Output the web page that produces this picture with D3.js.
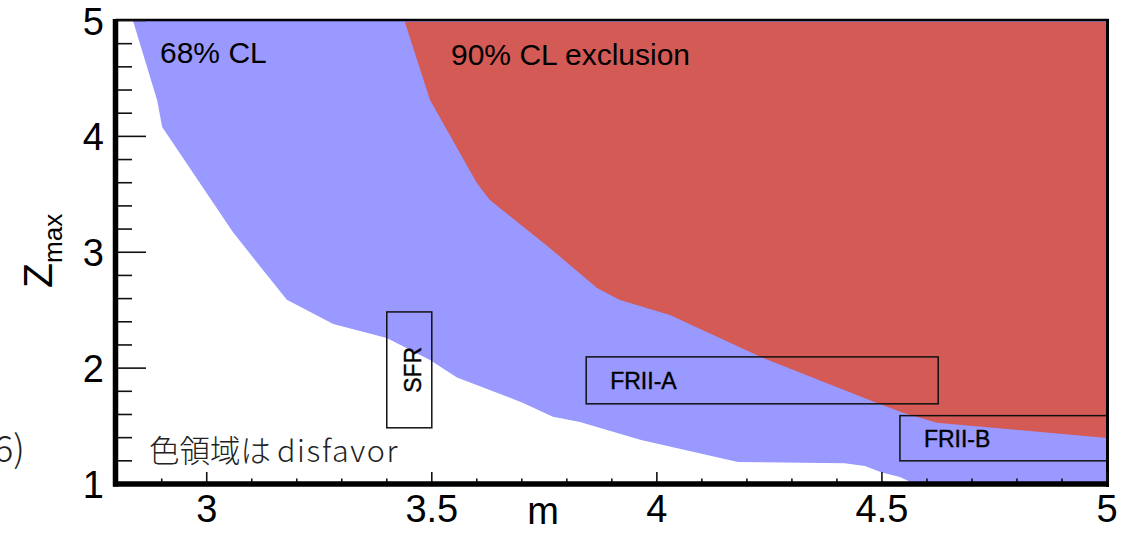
<!DOCTYPE html>
<html>
<head>
<meta charset="utf-8">
<script src="https://cdn.jsdelivr.net/npm/d3@7"></script>
<style>
  html, body { margin: 0; padding: 0; background: #ffffff; }
  svg { display: block; }
</style>
</head>
<body>
<svg id="chart" width="1127" height="534"></svg>
<script>
// Axis ranges
const mDomain = [2.8, 5];
const zDomain = [1, 5];

// Tick values and labels
const xTickValues = [3, 3.5, 4, 4.5, 5];
const xTickLabels = ["3", "3.5", "4", "4.5", "5"];
const yTickValues = [1, 2, 3, 4, 5];
const yTickLabels = ["1", "2", "3", "4", "5"];

// 68% CL region: lower/left boundary (m, Zmax)
const cl68M = [2.836, 2.890, 2.901, 3.058, 3.112, 3.178, 3.281, 3.400, 3.496, 3.556, 3.703, 3.769, 3.829, 3.965, 4.180, 4.417, 4.462, 4.500, 4.540, 4.573];
const cl68Z = [5.000, 4.310, 4.080, 3.175, 2.910, 2.590, 2.380, 2.260, 2.070, 1.920, 1.700, 1.580, 1.535, 1.380, 1.190, 1.180, 1.155, 1.100, 1.060, 1.000];

// 90% CL exclusion region: lower/left boundary (m, Zmax)
const cl90M = [3.440, 3.496, 3.600, 3.629, 3.762, 3.867, 3.918, 4.029, 4.236, 4.489, 4.547, 4.622, 5.000];
const cl90Z = [4.990, 4.314, 3.598, 3.451, 3.037, 2.692, 2.589, 2.459, 2.088, 1.700, 1.614, 1.528, 1.398];

// Source population boxes
const regionNames = ["SFR", "FRII-A", "FRII-B"];
const regionMMin = [3.40, 3.843, 4.54];
const regionMMax = [3.50, 4.625, 5.00];
const regionZMin = [1.485, 1.692, 1.20];
const regionZMax = [2.485, 2.097, 1.59];

// Text annotations
const cl68Label = "68% CL";
const cl90Label = "90% CL exclusion";
const noteLabel = "色領域は";
const noteLatin = "disfavor";
const sideLabel = "6)";

const svg = d3.select("#chart");

const x = d3.scaleLinear().domain(mDomain).range([116.7, 1107]);
const y = d3.scaleLinear().domain(zDomain).range([484, 20.5]);

svg.append("defs").append("clipPath").attr("id", "plotClip")
  .append("rect")
  .attr("x", x(mDomain[0])).attr("y", y(zDomain[1]))
  .attr("width", x(mDomain[1]) - x(mDomain[0]))
  .attr("height", y(zDomain[0]) - y(zDomain[1]));

const line = d3.line().x(d => x(d[0])).y(d => y(d[1]));

const plot = svg.append("g").attr("clip-path", "url(#plotClip)");

// 68% CL band (filled to the upper-right corner)
const poly68 = cl68M.map((m, i) => [m, cl68Z[i]]);
poly68.push([mDomain[1], zDomain[0]], [mDomain[1], zDomain[1]]);
plot.append("path")
  .attr("d", line(poly68) + "Z")
  .attr("fill", "#9999ff");

// 90% CL exclusion (drawn on top)
const poly90 = cl90M.map((m, i) => [m, cl90Z[i]]);
poly90.push([mDomain[1], 4.99]);
plot.append("path")
  .attr("d", line(poly90) + "Z")
  .attr("fill", "#d35a55");

// Source boxes
regionNames.forEach((name, i) => {
  svg.append("rect")
    .attr("x", x(regionMMin[i]))
    .attr("y", y(regionZMax[i]))
    .attr("width", x(regionMMax[i]) - x(regionMMin[i]))
    .attr("height", y(regionZMin[i]) - y(regionZMax[i]))
    .attr("fill", "none")
    .attr("stroke", "#111")
    .attr("stroke-width", 1.5);
});

const boxFont = "'Liberation Sans', Arial, Helvetica, sans-serif";
// SFR label, vertical
svg.append("text")
  .attr("transform", `translate(${(x(regionMMin[0]) + x(regionMMax[0])) / 2 + 12},${(y(regionZMin[0]) + y(regionZMax[0])) / 2}) rotate(-90)`)
  .attr("text-anchor", "middle")
  .attr("font-family", boxFont)
  .attr("font-size", 23)
  .attr("fill", "#000")
  .attr("stroke", "#000").attr("stroke-width", 0.4)
  .text(regionNames[0]);
// FRII-A / FRII-B labels
[1, 2].forEach(i => {
  svg.append("text")
    .attr("x", x(regionMMin[i]) + 24)
    .attr("y", (y(regionZMin[i]) + y(regionZMax[i])) / 2 + 9)
    .attr("font-family", boxFont)
    .attr("font-size", 23)
    .attr("fill", "#000")
    .attr("stroke", "#000").attr("stroke-width", 0.4)
    .text(regionNames[i]);
});

// Frame
const frame = svg.append("g").attr("stroke", "#000").attr("fill", "none");
frame.append("line").attr("x1", x(mDomain[0]) - 1).attr("x2", x(mDomain[1]) + 1.5)
  .attr("y1", y(zDomain[1]) - 0.5).attr("y2", y(zDomain[1]) - 0.5).attr("stroke-width", 2.5);
frame.append("line").attr("x1", x(mDomain[1]) + 0.5).attr("x2", x(mDomain[1]) + 0.5)
  .attr("y1", y(zDomain[1]) - 1.5).attr("y2", y(zDomain[0]) + 3).attr("stroke-width", 3);

// Y axis ticks (minor every 0.2, major every 1)
const yMinor = d3.range(10, 51, 2).map(v => v / 10);
svg.append("g").selectAll("line").data(yMinor).join("line")
  .attr("x1", 115.5)
  .attr("x2", d => Number.isInteger(d) ? 146 : 132)
  .attr("y1", d => y(d)).attr("y2", d => y(d))
  .attr("stroke", "#111").attr("stroke-width", 1.6);

// X axis ticks (minor every 0.1, major every 0.5)
const xMinor = d3.range(28, 51, 1).map(v => v / 10);
svg.append("g").selectAll("line").data(xMinor).join("line")
  .attr("x1", d => x(d)).attr("x2", d => x(d))
  .attr("y1", 484)
  .attr("y2", d => (Math.round(d * 10) % 5 === 0) ? 472 : 478.5)
  .attr("stroke", "#111").attr("stroke-width", 1.6);

// Thick axis lines
svg.append("line").attr("x1", 115.5).attr("x2", 115.5)
  .attr("y1", y(zDomain[1]) - 1.5).attr("y2", 486.5)
  .attr("stroke", "#000").attr("stroke-width", 5.5);
svg.append("line").attr("x1", 113).attr("x2", x(mDomain[1]) + 2)
  .attr("y1", 484).attr("y2", 484)
  .attr("stroke", "#000").attr("stroke-width", 5.5);

const axisFont = "'Liberation Sans', Arial, Helvetica, sans-serif";
// Y tick labels
svg.append("g").selectAll("text").data(yTickValues).join("text")
  .attr("x", 104)
  .attr("y", d => y(d) + 14)
  .attr("text-anchor", "end")
  .attr("font-family", axisFont)
  .attr("font-size", 38)
  .attr("fill", "#000")
  .text((d, i) => yTickLabels[i]);

// X tick labels
svg.append("g").selectAll("text").data(xTickValues).join("text")
  .attr("x", d => x(d))
  .attr("y", 522)
  .attr("text-anchor", "middle")
  .attr("font-family", axisFont)
  .attr("font-size", 38)
  .attr("fill", "#000")
  .text((d, i) => xTickLabels[i]);

// Axis titles
svg.append("text")
  .attr("x", 543).attr("y", 524)
  .attr("text-anchor", "middle")
  .attr("font-family", axisFont)
  .attr("font-size", 38)
  .attr("fill", "#000")
  .text("m");

const yTitle = svg.append("text")
  .attr("transform", "translate(52,288) rotate(-90)")
  .attr("font-family", axisFont)
  .attr("fill", "#000");
yTitle.append("tspan").attr("font-size", 41).text("Z");
yTitle.append("tspan").attr("font-size", 26).attr("dy", 10).text("max");

// Region labels
svg.append("text")
  .attr("x", 160).attr("y", 62.5)
  .attr("font-family", axisFont).attr("font-size", 30).attr("fill", "#000")
  .text(cl68Label);
svg.append("text")
  .attr("x", 451).attr("y", 64.5)
  .attr("font-family", axisFont).attr("font-size", 30).attr("fill", "#000")
  .text(cl90Label);

// Note text
const noteFont = "'Noto Sans CJK JP', 'Noto Sans', sans-serif";
const note = svg.append("text")
  .attr("x", 149).attr("y", 462)
  .attr("font-family", noteFont).attr("font-size", 30.5)
  .attr("font-weight", 300).attr("fill", "#222");
note.append("tspan").text(noteLabel);
note.append("tspan").attr("dx", 6).attr("letter-spacing", 1.6).text(noteLatin);

svg.append("text")
  .attr("x", 25).attr("y", 462)
  .attr("text-anchor", "end")
  .attr("font-family", noteFont).attr("font-size", 37)
  .attr("font-weight", 300).attr("fill", "#222")
  .text(sideLabel);
</script>
</body>
</html>
